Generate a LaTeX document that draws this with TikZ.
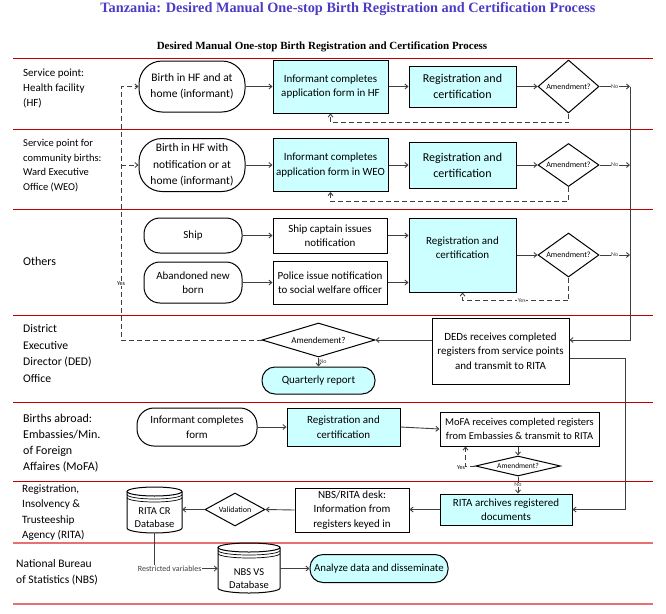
\documentclass[tikz,border=0pt]{standalone}
\usepackage{fontspec}
\setmainfont{Carlito}
\newfontfamily\titlefont{Liberation Serif}
\usetikzlibrary{shapes.geometric,arrows.meta}
\definecolor{boxcyan}{RGB}{204,255,255}
\definecolor{lanered}{RGB}{192,0,0}
\definecolor{lanepink}{RGB}{232,112,112}
\definecolor{titleblue}{RGB}{76,60,196}
\definecolor{linegray}{RGB}{64,64,64}

\begin{document}
\begin{tikzpicture}[x=1pt, y=-1pt,
    >={Straight Barb[length=3pt,width=5pt]},
    every node/.style={font=\fontsize{11}{14.5}\selectfont, align=center, inner sep=1pt},
    lane/.style={anchor=west, align=left},
    box/.style={draw, line width=1pt, fill=white},
    cyanbox/.style={box, fill=boxcyan},
    term/.style={box, rounded corners=16pt},
    decision/.style={diamond, draw, line width=1pt, fill=white, inner sep=0pt, font=\fontsize{8}{9}\selectfont},
    lbl/.style={font=\fontsize{6}{7}\selectfont, fill=white, inner sep=0.5pt},
    flow/.style={->, line width=0.9pt, linegray},
    back/.style={flow, dash pattern=on 5pt off 3pt}]
  \useasboundingbox (0,0) rectangle (666,613);

  % titles
  \node (title) at (348,9) [font=\titlefont\fontsize{14.3}{16}\selectfont\bfseries, text=titleblue] {Tanzania: Desired Manual One-stop Birth Registration and Certification Process};
  \node (subtitle) at (322,47) [font=\titlefont\fontsize{11}{13}\selectfont\bfseries] {Desired Manual One-stop Birth Registration and Certification Process};

  % swim lanes
  \draw[lanered, line width=0.9pt] (13,58) -- (653,58);
  \draw[lanered, line width=0.9pt] (13,129) -- (653,129);
  \draw[lanered, line width=0.9pt] (13,209) -- (653,209);
  \draw[lanered, line width=0.9pt] (13,315) -- (653,315);
  \draw[lanered, line width=0.9pt] (13,402) -- (653,402);
  \draw[lanered, line width=0.9pt] (13,481) -- (653,481);
  \draw[lanepink, line width=1.6pt] (13,543) -- (653,543);
  \draw[lanepink, line width=1.6pt] (13,604) -- (653,604);

  \node (lanehf) at (22,88) [lane, font=\fontsize{11}{15}\selectfont] {Service point:\\Health facility\\(HF)};
  \node (laneweo) at (22,165.5) [lane, font=\fontsize{10.5}{14.7}\selectfont] {Service point for\\community births:\\Ward Executive\\Office (WEO)};
  \node (laneoth) at (22,261) [lane, font=\fontsize{12}{15}\selectfont] {Others};
  \node (laneded) at (22,353.5) [lane, font=\fontsize{11.7}{16.5}\selectfont] {District\\Executive\\Director (DED)\\Office};
  \node (lanemofa) at (22,443.5) [lane, font=\fontsize{12}{16}\selectfont] {Births abroad:\\Embassies/Min.\\of Foreign\\Affaires (MoFA)};
  \node (lanerita) at (21,512.5) [lane, font=\fontsize{11.2}{15.5}\selectfont] {Registration,\\Insolvency \&\\Trusteeship\\Agency (RITA)};
  \node (lanenbs) at (15,572.5) [lane, font=\fontsize{11.5}{15.5}\selectfont] {National Bureau\\of Statistics (NBS)};

  % health facility
  \node (hfbirth) at (192,86.5) [term, rounded corners=23pt, minimum width=106, minimum height=51, font=\fontsize{11.5}{16}\selectfont] {Birth in HF and at\\home (informant)};
  \node (hfform) at (330.5,86.5) [cyanbox, minimum width=115, minimum height=53] {Informant completes\\application form in HF};
  \node (hfreg) at (462.5,86.5) [cyanbox, minimum width=107, minimum height=41, font=\fontsize{12}{16}\selectfont] {Registration and\\certification};
  \node (hfamd) at (568.5,86.5) [decision, shape aspect=1.15, minimum width=61, minimum height=53] {Amendment?};

  % ward executive office
  \node (weobirth) at (192,165) [term, rounded corners=23pt, minimum width=106, minimum height=53, font=\fontsize{11.5}{16.5}\selectfont] {Birth in HF with\\notification or at\\home (informant)};
  \node (weoform) at (330.5,165) [cyanbox, minimum width=115, minimum height=53] {Informant completes\\application form in WEO};
  \node (weoreg) at (462.5,165) [cyanbox, minimum width=107, minimum height=46, font=\fontsize{12}{16}\selectfont] {Registration and\\certification};
  \node (weoamd) at (568.5,165) [decision, shape aspect=1.42, minimum width=61, minimum height=43] {Amendment?};

  % others
  \node (ship) at (193,235.5) [term, minimum width=98, minimum height=35] {Ship};
  \node (aband) at (193,282.5) [term, minimum width=98, minimum height=41] {Abandoned new\\born};
  \node (captain) at (330,235.5) [box, minimum width=114, minimum height=35] {Ship captain issues\\notification};
  \node (police) at (330,282.5) [box, minimum width=114, minimum height=43] {Police issue notification\\to social welfare officer};
  \node (othreg) at (462.5,255) [cyanbox, minimum width=107, minimum height=74] {Registration and\\certification\\\mbox{}};
  \node (othamd) at (568.5,255) [decision, shape aspect=1.4, minimum width=61, minimum height=44] {Amendment?};

  % district executive director
  \node (dedamd) at (318.5,340) [decision, shape aspect=3.3, minimum width=113, minimum height=34, font=\fontsize{9}{10}\selectfont] {Amendement?};
  \node (quarterly) at (318.5,380.5) [term, fill=boxcyan, rounded corners=13pt, minimum width=113, minimum height=27] {Quarterly report};
  \node (dedbox) at (500.5,351) [box, minimum width=137, minimum height=66] {DEDs receives completed\\registers from service points\\and transmit to RITA};

  % births abroad
  \node (mofainf) at (197,427) [term, rounded corners=17pt, minimum width=120, minimum height=38] {Informant completes\\form};
  \node (mofareg) at (343.5,427) [cyanbox, minimum width=113, minimum height=38] {Registration and\\certification};
  \node (mofabox) at (519.5,429) [box, minimum width=159, minimum height=34, font=\fontsize{10.5}{14.5}\selectfont] {MoFA receives completed registers\\from Embassies \& transmit to RITA};
  \node (mofaamd) at (518,466) [decision, shape aspect=4.25, minimum width=85, minimum height=20, font=\fontsize{7.5}{8}\selectfont] {Amendment?};

  % rita
  \node (archive) at (506,509.5) [cyanbox, minimum width=132, minimum height=31] {RITA archives registered\\documents};
  \node (desk) at (352,510) [box, minimum width=114, minimum height=44] {NBS/RITA desk:\\Information from\\registers keyed in};
  \node (valid) at (235,509.5) [decision, shape aspect=1.8, minimum width=60, minimum height=33] {Validation};
  \draw[line width=1pt] (127,491.5) -- (127,528) arc[start angle=180, end angle=0, x radius=27.5, y radius=5] -- (182,491.5);
  \draw[line width=1pt] (154.5,491.5) ellipse[x radius=27.5, y radius=4.5];
  \draw[line width=0.7pt] (127,494.5) arc[start angle=180, end angle=0, x radius=27.5, y radius=4.5];
  \draw[line width=0.7pt] (127,497.5) arc[start angle=180, end angle=0, x radius=27.5, y radius=4.5];
  \node (ritadb) at (154.5,510) [minimum width=55, minimum height=46, inner sep=0] {};
  \node (ritadbtext) at (154.5,518) [font=\fontsize{10.5}{13}\selectfont] {RITA CR\\Database};

  % nbs
  \draw[line width=1pt] (218,547.5) -- (218,588) arc[start angle=180, end angle=0, x radius=31, y radius=5] -- (280,547.5);
  \draw[line width=1pt] (249,547.5) ellipse[x radius=31, y radius=4.5];
  \draw[line width=0.7pt] (218,550.5) arc[start angle=180, end angle=0, x radius=31, y radius=4.5];
  \draw[line width=0.7pt] (218,553.5) arc[start angle=180, end angle=0, x radius=31, y radius=4.5];
  \node (nbsdb) at (249,568) [minimum width=62, minimum height=50, inner sep=0] {};
  \node (nbsdbtext) at (249,579) [font=\fontsize{10.5}{13}\selectfont] {NBS VS\\Database};
  \node (analyze) at (379,568.5) [term, fill=boxcyan, rounded corners=13pt, minimum width=138, minimum height=28, font=\fontsize{10.8}{13}\selectfont] {Analyze data and disseminate};

  % flows
  \coordinate (busx) at (630,0);
  \coordinate (yesx) at (121,0);
  \draw[flow] (hfbirth.east) -- (hfform.west);
  \draw[flow] (hfform.east) -- (hfreg.west);
  \draw[flow] (hfreg.east) -- (hfamd.west);
  \draw[flow] (hfamd.east) -- node[lbl] {No} (hfamd.east -| busx);
  \draw[back] (hfamd.south) -- ++(0,9) -| (hfform.south);

  \draw[flow] (weobirth.east) -- (weoform.west);
  \draw[flow] (weoform.east) -- (weoreg.west);
  \draw[flow] (weoreg.east) -- (weoamd.west);
  \draw[flow] (weoamd.east) -- node[lbl] {No} (weoamd.east -| busx);
  \draw[back] (weoamd.south) -- ++(0,14.5) -| (weoform.south);

  \draw[flow] (ship.east) -- (captain.west);
  \draw[flow] (aband.east) -- (police.west);
  \draw[flow] (captain.east) -- (captain.east -| othreg.west);
  \draw[flow] (police.east) -- (police.east -| othreg.west);
  \draw[flow] (othreg.east) -- (othamd.west);
  \draw[flow] (othamd.east) -- node[lbl] {No} (othamd.east -| busx);
  \draw[back] (othamd.south) -- ++(0,23) -| node[pos=0.22, lbl] {Yes} (othreg.south);

  \draw[flow] (hfamd.east -| busx) -- (dedamd -| busx) -- (dedamd -| dedbox.east);
  \draw[flow] (dedamd -| dedbox.west) -- (dedamd.east);
  \draw[flow] (dedamd.south) -- node[right=0pt, lbl, fill=none] {No} (quarterly.north);
  \draw[back] (dedamd.west) -| (hfbirth.west -| yesx) -- (hfbirth.west);
  \draw[back] (weobirth.west -| yesx) -- (weobirth.west);
  \node (yes) at (121,284) [lbl] {Yes};
  \draw[flow] ([yshift=-7pt]dedbox.east) -| ([xshift=53pt]archive.east) -- (archive.east);

  \draw[flow] (mofainf.east) -- (mofareg.west);
  \draw[flow] (mofareg.east) -- (mofabox.west);
  \draw[flow] (mofabox.south -| mofaamd.north) -- (mofaamd.north);
  \draw[back] (mofaamd.west) -| ([xshift=26pt]mofabox.south west);
  \node (mofayes) at (461,468) [lbl] {Yes};
  \draw[flow] (mofaamd.south) -- node[lbl] {No} (mofaamd.south |- archive.north);

  \draw[flow] (archive.west) -- (archive.west -| desk.east);
  \draw[flow] (desk.west) -- (valid.east);
  \draw[flow] (valid.west) -- (valid.west -| ritadb.east);
  \draw[flow] (ritadb.south) |- node[pos=0.62, lbl, font=\fontsize{8}{9}\selectfont] {Restricted variables} (nbsdb.west |- analyze);
  \draw[flow] (nbsdb.east |- analyze) -- (analyze.west);
\end{tikzpicture}
\end{document}
